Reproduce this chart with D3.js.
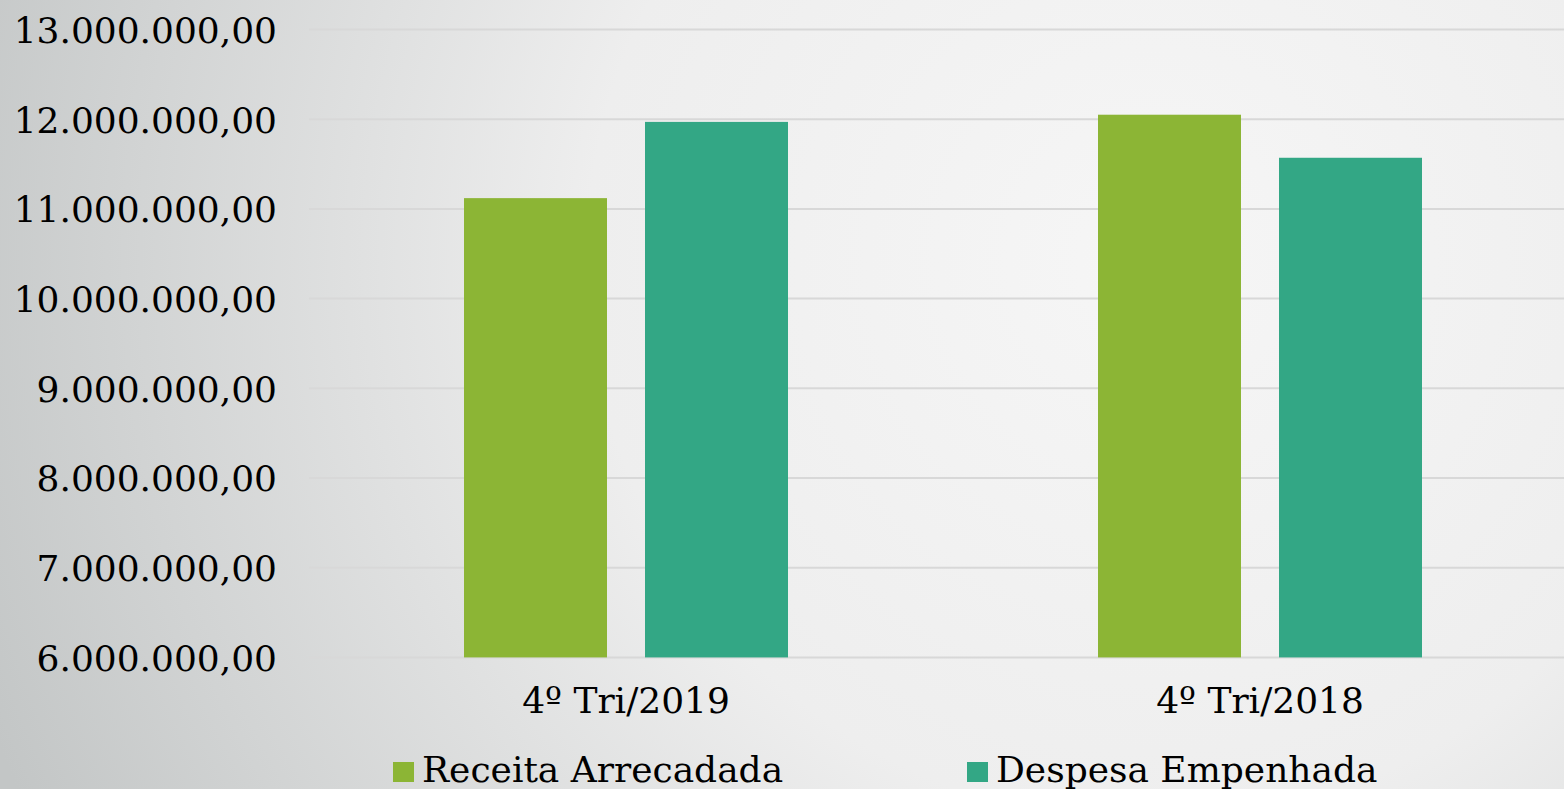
<!DOCTYPE html>
<html><head><meta charset="utf-8">
<script src="https://cdn.jsdelivr.net/npm/d3@7"></script>
<style>html,body{margin:0;padding:0;overflow:hidden;}svg{display:block;}</style>
</head><body>
<script>
const categories = ["4º Tri/2019", "4º Tri/2018"];
const seriesNames = ["Receita Arrecadada", "Despesa Empenhada"];
const receita = [11120000, 12050000];
const despesa = [11970000, 11570000];
const yTicks = [6000000, 7000000, 8000000, 9000000, 10000000, 11000000, 12000000, 13000000];
const colors = ["#8cb535", "#33a785"];

const W = 1564, H = 789;
const svg = d3.select("body").append("svg").attr("width", W).attr("height", H);
const defs = svg.append("defs");
const grad = defs.append("radialGradient").attr("id", "bg")
  .attr("gradientUnits", "userSpaceOnUse").attr("cx", 1150).attr("cy", 260).attr("r", 1250);
grad.append("stop").attr("offset", "0").attr("stop-color", "#f6f6f6");
grad.append("stop").attr("offset", "0.45").attr("stop-color", "#eeeeee");
grad.append("stop").attr("offset", "1").attr("stop-color", "#c3c6c6");
svg.append("rect").attr("width", W).attr("height", H).attr("fill", "url(#bg)");

const font = "'DejaVu Serif', serif";
const x0 = d3.scaleBand().domain(categories).range([309, 1577]).paddingInner(0).paddingOuter(0);
const y = d3.scaleLinear().domain([6000000, 13000000]).range([657.4, 29.5]);

const fmt = v => d3.formatLocale({decimal: ",", thousands: ".", grouping: [3], currency: ["", ""]}).format(",.2f")(v);

// gridlines
svg.append("g").selectAll("line").data(yTicks).join("line")
  .attr("x1", 309).attr("x2", W).attr("y1", d => y(d)).attr("y2", d => y(d))
  .attr("stroke", "#d8d8d8").attr("stroke-width", 2);

// y axis labels
const yAxis = d3.axisLeft(y).tickValues(yTicks).tickFormat(fmt).tickSize(0).tickPadding(0);
const ya = svg.append("g").attr("transform", "translate(277,0)").call(yAxis);
ya.select(".domain").remove();
ya.selectAll("text").attr("font-family", font).attr("font-size", 36).attr("fill", "#000").attr("dy", "0.36em");

// bars
const data = categories.map((c, i) => ({cat: c, vals: [receita[i], despesa[i]]}));
const bw = 143, gap = 38;
const groups = svg.append("g").selectAll("g").data(data).join("g");
groups.selectAll("rect").data(d => d.vals.map((v, j) => ({cat: d.cat, v, j}))).join("rect")
  .attr("x", d => x0(d.cat) + x0.bandwidth() / 2 + (d.j === 0 ? -(bw + gap / 2) : gap / 2))
  .attr("width", bw)
  .attr("y", d => y(d.v))
  .attr("height", d => y(6000000) - y(d.v))
  .attr("fill", d => colors[d.j]);

// x axis labels
const xAxis = d3.axisBottom(x0).tickSize(0).tickPadding(0);
const xa = svg.append("g").attr("transform", "translate(0,713)").call(xAxis);
xa.select(".domain").remove();
xa.selectAll("text").attr("font-family", font).attr("font-size", 36).attr("fill", "#000").attr("dy", 0);

// legend
const legX = [393, 967];
const leg = svg.append("g").selectAll("g").data(seriesNames).join("g")
  .attr("transform", (d, i) => `translate(${legX[i]},0)`);
leg.append("rect").attr("x", 0).attr("y", 762).attr("width", 21).attr("height", 20).attr("fill", (d, i) => colors[i]);
leg.append("text").attr("x", 29).attr("y", 782).attr("font-family", font).attr("font-size", 36)
  .attr("fill", "#000").text(d => d);
</script>
</body></html>
